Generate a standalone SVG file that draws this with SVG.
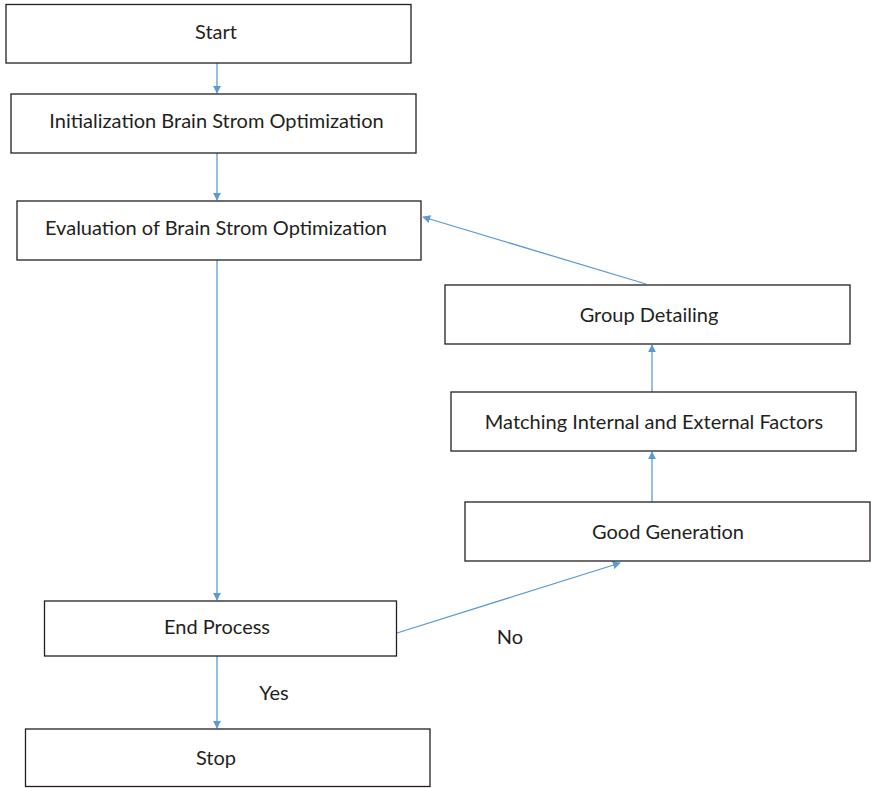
<svg xmlns="http://www.w3.org/2000/svg" width="871" height="788" viewBox="0 0 871 788">
  <style>
    .box { fill: #ffffff; stroke: #231f20; stroke-width: 1.3; }
    .lbl { font-family: "Lato", "Liberation Sans", sans-serif; font-size: 20px; fill: #231f20; text-anchor: middle; }
    .edge { fill: none; stroke: #5b9bd5; stroke-width: 1.3; marker-end: url(#arrow); }
  </style>
  <defs>
    <marker id="arrow" viewBox="0 0 10 10" refX="9" refY="5" markerWidth="8" markerHeight="8" markerUnits="userSpaceOnUse" orient="auto">
      <path d="M0,0 L10,5 L0,10 z" fill="#5b9bd5"/>
    </marker>
  </defs>
  <rect width="871" height="788" fill="#ffffff"/>

  <g id="connectors">
    <line class="edge" x1="217" y1="63" x2="217" y2="93"/>
    <line class="edge" x1="217" y1="153" x2="217" y2="200"/>
    <line class="edge" x1="217" y1="260" x2="217" y2="600"/>
    <line class="edge" x1="217" y1="656" x2="217" y2="728"/>
    <line class="edge" x1="397" y1="633" x2="620" y2="563"/>
    <line class="edge" x1="652" y1="502" x2="652" y2="452"/>
    <line class="edge" x1="652" y1="392" x2="652" y2="345"/>
    <line class="edge" x1="646" y1="284" x2="423" y2="217"/>
    <text class="lbl" x="510" y="644">No</text>
    <text class="lbl" x="274" y="700">Yes</text>
  </g>

  <g id="start">
    <rect class="box" x="6" y="4.5" width="405" height="58.5"/>
    <text class="lbl" x="216" y="38.5">Start</text>
  </g>
  <g id="init">
    <rect class="box" x="11" y="94" width="405" height="59"/>
    <text class="lbl" x="216.5" y="127.5">Initialization Brain Strom Optimization</text>
  </g>
  <g id="evaluation">
    <rect class="box" x="17" y="201" width="404" height="59"/>
    <text class="lbl" x="216" y="234.5">Evaluation of Brain Strom Optimization</text>
  </g>
  <g id="group-detailing">
    <rect class="box" x="445" y="285" width="405" height="59"/>
    <text class="lbl" x="649" y="321.5">Group Detailing</text>
  </g>
  <g id="matching">
    <rect class="box" x="451" y="392" width="405" height="59"/>
    <text class="lbl" x="654" y="428.5">Matching Internal and External Factors</text>
  </g>
  <g id="good-generation">
    <rect class="box" x="465" y="502" width="405" height="59"/>
    <text class="lbl" x="668" y="538.5">Good Generation</text>
  </g>
  <g id="end-process">
    <rect class="box" x="44.5" y="601" width="352" height="55"/>
    <text class="lbl" x="217" y="634">End Process</text>
  </g>
  <g id="stop">
    <rect class="box" x="25.5" y="729" width="404.5" height="57.5"/>
    <text class="lbl" x="216" y="764.5">Stop</text>
  </g>
</svg>
